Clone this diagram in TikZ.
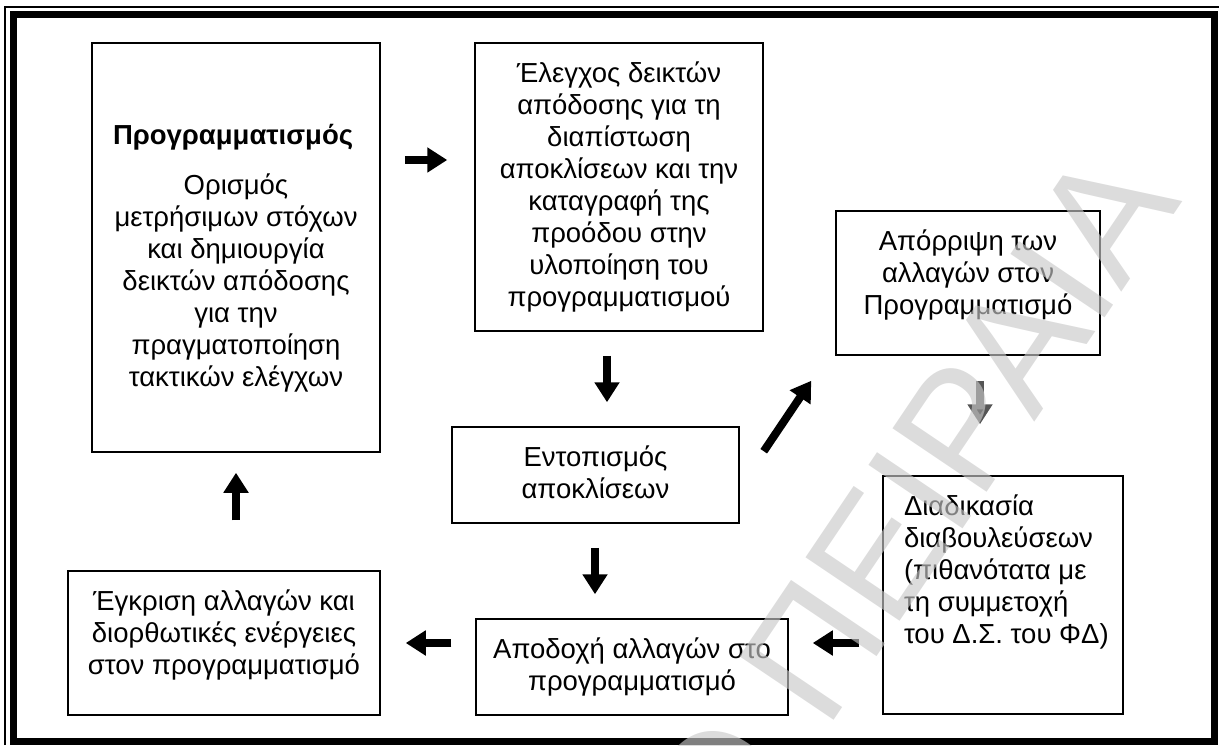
\documentclass[tikz,border=0pt]{standalone}
\usepackage{fontspec}
\setmainfont{Liberation Sans}
\usepackage{xcolor}
\definecolor{arrowgrey}{RGB}{85,85,85}
\definecolor{stampgrey}{RGB}{200,200,200}
\usepackage{tikz}
\usetikzlibrary{arrows.meta}
\newcommand{\toppad}{8.5pt}
\newcommand{\boxtext}[3]{\parbox[c][#2][t]{#1}{\centering\vspace*{\toppad}\strut#3\par}}
\newcommand{\boxtextleft}[3]{\parbox[c][#2][t]{#1}{\raggedright\leftskip=10.5pt\vspace*{\toppad}\strut#3\par}}
\tikzset{
    box/.style={draw, line width=0.75pt, inner sep=0pt, font=\fontsize{13.75}{16}\selectfont},
    flow/.style={line width=4pt, -{Triangle[length=10pt,width=12pt]}},
    flow-grey/.style={flow, draw=arrowgrey, -{Triangle[length=10pt,width=12pt,fill=black]}},
    stamp/.style={text=stampgrey, text opacity=0.64, inner sep=0pt, font=\fontsize{82.5}{82.5}\selectfont}
}

\begin{document}
\begin{tikzpicture}[x=0.5pt,y=0.5pt]
    \useasboundingbox (0,0) rectangle (1219,745);

    \draw[line width=0.75pt] (5,0) -- (5,738) -- (1219,738);
    \draw[line width=3.5pt] (13,4) rectangle (1214,730);

    \node[box] (plan) at (236,497.5) {\parbox[c][204.5pt][t]{144pt}{\vspace*{39.5pt}\hspace*{10.5pt}\strut\textbf{Προγραμματισμός}\par\vspace{9pt}\centering
        Ορισμός\\ μετρήσιμων στόχων\\ και δημιουργία\\ δεικτών απόδοσης\\ για την\\ πραγματοποίηση\\ τακτικών ελέγχων\par}};
    \node[box] (check) at (619,558) {\boxtext{144pt}{144pt}{Έλεγχος δεικτών\\ απόδοσης για τη\\ διαπίστωση\\ αποκλίσεων και την\\ καταγραφή της\\ προόδου στην\\ υλοποίηση του\\ προγραμματισμού}};
    \node[box] (reject) at (968,462) {\boxtext{132pt}{72pt}{Απόρριψη των\\ αλλαγών στον\\ Προγραμματισμό}};
    \node[box] (detect) at (595.5,270) {\boxtext{143.5pt}{48pt}{Εντοπισμός\\ αποκλίσεων}};
    \node[box] (consult) at (1003,150) {\boxtextleft{120pt}{119pt}{Διαδικασία\\ διαβουλεύσεων\\ (πιθανότατα με\\ τη συμμετοχή\\ του Δ.Σ. του ΦΔ)}};
    \node[box] (accept) at (632,78) {\boxtext{156pt}{48pt}{Αποδοχή αλλαγών στο\\ προγραμματισμό}};
    \node[box] (approve) at (224,102) {\boxtext{156pt}{72pt}{Έγκριση αλλαγών και\\ διορθωτικές ενέργειες\\ στον προγραμματισμό}};

    \draw[flow] ([shift={(24,87.5)}]plan.east) -- ([shift={(-27,27)}]check.west);
    \draw[flow] ([shift={(-12,-24)}]check.south) -- ([shift={(11.5,24)}]detect.north);
    \draw[flow] ([shift={(24,-25)}]detect.north east) -- ([shift={(-24,-25)}]reject.south west);
    \draw[flow-grey] ([shift={(12,-25)}]reject.south) -- ([shift={(-23,51)}]consult.north);
    \draw[flow] ([shift={(-0.5,-24)}]detect.south) -- ([shift={(-37,24)}]accept.north);
    \draw[flow] ([shift={(-23,-48)}]consult.west) -- ([shift={(24,24)}]accept.east);
    \draw[flow] ([shift={(-24,24)}]accept.west) -- ([shift={(25,0)}]approve.east);
    \draw[flow] ([shift={(12,50)}]approve.north) -- ([shift={(0,-20)}]plan.south);

    \begin{scope}
        \clip (0,0) rectangle (1219,745);
        \node[stamp, rotate=56] (stamp) at (909,238) {Ο ΠΕΙΡΑΙΑ};
    \end{scope}
\end{tikzpicture}
\end{document}
